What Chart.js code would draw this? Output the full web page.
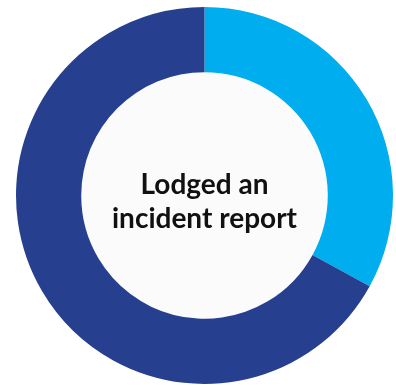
<!DOCTYPE html>
<html>
<head>
<meta charset="utf-8">
<script src="https://cdn.jsdelivr.net/npm/chart.js@4"></script>
<style>
  html, body { margin: 0; padding: 0; background: #ffffff; }
  #wrap { width: 396px; height: 385px; }
</style>
</head>
<body>
<div id="wrap"><canvas id="donut"></canvas></div>
<script>
'use strict';

const categories = ['Lodged an incident report', 'Did not lodge a report'];
const shares = [33, 67];
const colours = ['#00AEEF', '#26408F'];
const centerLines = ['Lodged an', 'incident report'];

// Fill the hole and write the caption in the middle
const centerPlugin = {
  id: 'centerCaption',
  beforeDatasetsDraw(chart) {
    const arc = chart.getDatasetMeta(0).data[0];
    if (!arc) return;
    const c = chart.ctx;
    c.save();
    c.beginPath();
    c.arc(arc.x, arc.y, arc.innerRadius, 0, Math.PI * 2);
    c.fillStyle = '#FBFBFB';
    c.fill();
    c.restore();
  },
  afterDraw(chart) {
    const arc = chart.getDatasetMeta(0).data[0];
    if (!arc) return;
    const c = chart.ctx;
    c.save();
    c.textAlign = 'center';
    c.textBaseline = 'alphabetic';
    c.fillStyle = '#111111';
    c.font = 'bold 28px Lato, sans-serif';
    c.fillText(centerLines[0], arc.x, arc.y - 2);
    c.fillText(centerLines[1], arc.x, arc.y + 32);
    c.restore();
  }
};

new Chart(document.getElementById('donut'), {
  type: 'doughnut',
  plugins: [centerPlugin],
  data: {
    labels: categories,
    datasets: [{
      data: shares,
      backgroundColor: colours,
      borderWidth: 0,
      hoverOffset: 0
    }]
  },
  options: {
    responsive: true,
    maintainAspectRatio: false,
    animation: false,
    cutout: '65.4%',
    layout: { padding: { top: 7, bottom: 1, left: 16, right: 3 } },
    plugins: {
      legend: { display: false },
      tooltip: { enabled: false }
    },
    events: []
  }
});
</script>
</body>
</html>
